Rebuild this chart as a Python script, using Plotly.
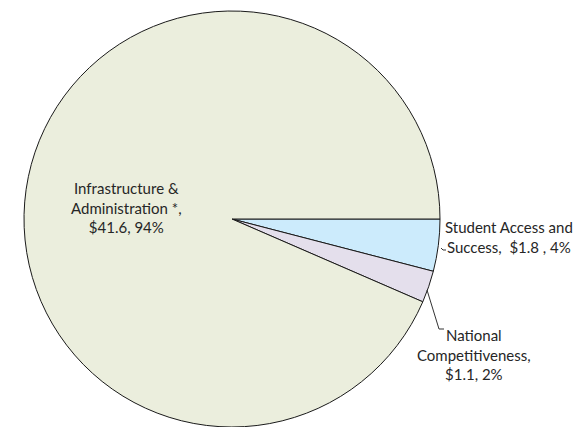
import plotly.graph_objects as go

categories = ["Student Access and Success", "National Competitiveness", "Infrastructure & Administration *"]
values = [1.8, 1.1, 41.6]
pct_labels = ["4%", "2%", "94%"]
label_texts = [
    "Student Access and<br>Success,  $1.8 , 4%",
    "National<br>Competitiveness,<br>$1.1, 2%",
    "Infrastructure &<br>Administration *,<br>$41.6, 94%",
]
colors = ["#CCEBFC", "#E4DFEC", "#EBEEDD"]

# the page body has an 8px margin; figure is sized to the visible area
OFF = 8
W, H = 581 - OFF, 427 - OFF
cx, cy, r = 232 - OFF, 219 - OFF, 208

def px(x):
    return (x - OFF) / W

def py(y):
    return 1 - (y - OFF) / H

fig = go.Figure(go.Pie(
    labels=categories,
    values=values,
    sort=False,
    direction="clockwise",
    rotation=90,
    marker=dict(colors=colors, line=dict(color="#1a1a1a", width=1)),
    textinfo="none",
    hoverinfo="label+value+percent",
    domain=dict(x=[(cx - r) / W, (cx + r) / W], y=[max(0, 1 - (cy + r) / H), 1 - (cy - r) / H]),
    showlegend=False,
))

font = dict(family="Lato, Open Sans, sans-serif", size=15, color="#262626")
label_pos = [(509, 237), (474, 354), (126, 207)]
for txt, (x, y) in zip(label_texts, label_pos):
    fig.add_annotation(text=txt, x=px(x), y=py(y), xref="paper", yref="paper",
                       xanchor="center", yanchor="middle", showarrow=False,
                       align="center", font=font)

leaders = [
    [(441, 248), (443, 250), (446, 250)],
    [(427, 290), (439, 329), (444, 329)],
]
for pts in leaders:
    path = "M " + " L ".join(f"{px(x)},{py(y)}" for x, y in pts)
    fig.add_shape(type="path", path=path, xref="paper", yref="paper",
                  line=dict(color="#333333", width=1))

fig.update_layout(
    width=W, height=H,
    margin=dict(l=0, r=0, t=0, b=0),
    paper_bgcolor="white", plot_bgcolor="white",
)
fig.write_html("out.html")
